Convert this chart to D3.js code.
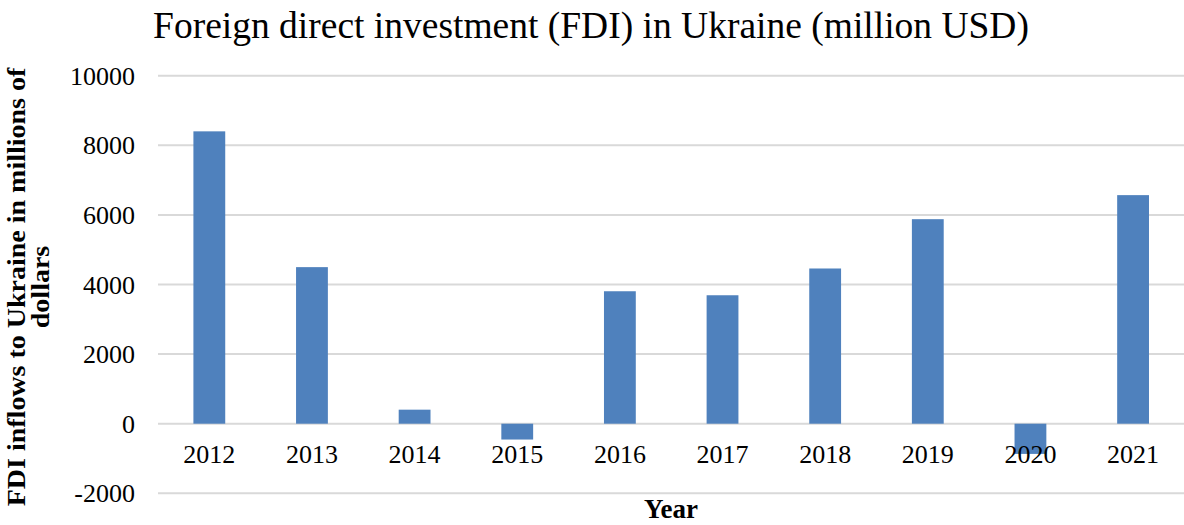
<!DOCTYPE html>
<html>
<head>
<meta charset="utf-8">
<script src="https://cdn.jsdelivr.net/npm/d3@7"></script>
<style>
body{margin:0;background:#fff;}
svg{display:block;}
</style>
</head>
<body>
<div id="chart"></div>
<script>
const years = ["2012","2013","2014","2015","2016","2017","2018","2019","2020","2021"];
const fdi = [8401, 4499, 403, -455, 3806, 3691, 4460, 5877, -868, 6568];
const yTicks = [-2000, 0, 2000, 4000, 6000, 8000, 10000];

const width = 1184, height = 525;
const m = {left:158, right:0, top:76, bottom:32};
const font = "'Liberation Serif','Times New Roman',serif";

const svg = d3.select("#chart").append("svg")
.attr("width",width)
.attr("height",height);

const x = d3.scaleBand()
.domain(years)
.range([m.left, width - m.right + 0.4])
.paddingInner(0.69)
.paddingOuter(0.345);

const y = d3.scaleLinear()
.domain([-2000, 10000])
.range([493.3, 75.7]);

// gridlines
svg.append("g")
.selectAll("line")
.data(yTicks)
.enter()
.append("line")
.attr("x1",m.left)
.attr("x2",width)
.attr("y1",d=>y(d))
.attr("y2",d=>y(d))
.attr("stroke","#d9d9d9")
.attr("stroke-width",2);

// y tick labels
svg.append("g")
.selectAll("text")
.data(yTicks)
.enter()
.append("text")
.attr("x",135)
.attr("y",d=>y(d))
.attr("dy","0.35em")
.attr("text-anchor","end")
.attr("font-family",font)
.attr("font-size","26px")
.text(d=>d);

// bars
svg.append("g")
.selectAll("rect")
.data(fdi)
.enter()
.append("rect")
.attr("x",(d,i)=>x(years[i]))
.attr("width",x.bandwidth())
.attr("y",d=>y(Math.max(0,d)))
.attr("height",d=>Math.abs(y(d)-y(0)))
.attr("fill","#4f81bd");

// x labels
svg.append("g")
.selectAll("text")
.data(years)
.enter()
.append("text")
.attr("x",d=>x(d)+x.bandwidth()/2)
.attr("y",463)
.attr("text-anchor","middle")
.attr("font-family",font)
.attr("font-size","26px")
.text(d=>d);

// title
svg.append("text")
.attr("x",591)
.attr("y",38)
.attr("text-anchor","middle")
.attr("font-family",font)
.attr("font-size","37.5px")
.text("Foreign direct investment (FDI) in Ukraine (million USD)");

// axis titles
svg.append("text")
.attr("x",671)
.attr("y",518)
.attr("text-anchor","middle")
.attr("font-family",font)
.attr("font-weight","bold")
.attr("font-size","27px")
.text("Year");

const yt = svg.append("text")
.attr("transform","translate(0,287) scale(0.9,1) rotate(-90)")
.attr("text-anchor","middle")
.attr("font-family",font)
.attr("font-weight","bold")
.attr("font-size","28px");
yt.append("tspan").attr("x",0).attr("y",28).text("FDI inflows to Ukraine in millions of");
yt.append("tspan").attr("x",0).attr("y",55).text("dollars");
</script>
</body>
</html>
